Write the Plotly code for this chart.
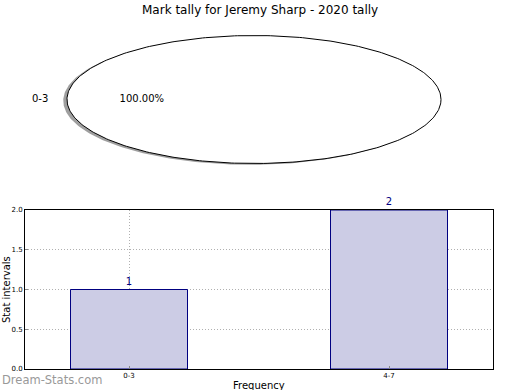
import numpy as np
import plotly.graph_objects as go

# ---- data ----
title_text = "Mark tally for Jeremy Sharp - 2020 tally"
pie_labels = ["0-3"]
pie_values = [1]
bar_categories = ["0-3", "4-7"]
bar_values = [1, 2]
y_ticks = [0.0, 0.5, 1.0, 1.5, 2.0]
x_title = "Frequency"
y_title = "Stat intervals"
watermark = "Dream-Stats.com"

W, H = 520, 390
FONT = "DejaVu Sans"
GRID = "#b0b0b0"

fig = go.Figure()

# ---- pie drawn as wedges on a hidden, stretched axis (ellipse) ----
total = float(sum(pie_values))
start = 0.0
label_x, label_y, pct_x, pct_y, pct_txt = [], [], [], [], []
for lab, v in zip(pie_labels, pie_values):
    frac = v / total
    t1, t2 = start, start + 360.0 * frac
    th = np.radians(np.linspace(t1, t2, 361))
    xs = np.cos(th)
    ys = np.sin(th)
    if frac < 1.0:
        xs = np.concatenate([[0.0], xs, [0.0]])
        ys = np.concatenate([[0.0], ys, [0.0]])
    # shadow
    fig.add_trace(go.Scatter(x=xs - 0.02, y=ys - 0.02, mode="lines", fill="toself",
                             fillcolor="rgba(80,80,80,0.55)", line=dict(width=0),
                             xaxis="x2", yaxis="y2", hoverinfo="skip", showlegend=False))
    fig.add_trace(go.Scatter(x=xs, y=ys, mode="lines", fill="toself",
                             fillcolor="white", line=dict(color="black", width=1),
                             xaxis="x2", yaxis="y2", hoverinfo="skip", showlegend=False))
    mid = np.radians((t1 + t2) / 2.0)
    label_x.append(1.1 * np.cos(mid)); label_y.append(1.1 * np.sin(mid))
    pct_x.append(0.6 * np.cos(mid)); pct_y.append(0.6 * np.sin(mid))
    pct_txt.append(f"{100 * frac:.2f}%")
    start = t2

fig.add_trace(go.Scatter(x=label_x, y=label_y, mode="text", text=pie_labels,
                         textposition="middle left", textfont=dict(family=FONT, size=10, color="black"),
                         xaxis="x2", yaxis="y2", hoverinfo="skip", showlegend=False, cliponaxis=False))
fig.add_trace(go.Scatter(x=pct_x, y=pct_y, mode="text", text=pct_txt,
                         textposition="middle center", textfont=dict(family=FONT, size=10, color="black"),
                         xaxis="x2", yaxis="y2", hoverinfo="skip", showlegend=False, cliponaxis=False))

# ---- bar chart ----
fig.add_trace(go.Bar(x=bar_categories, y=bar_values, width=0.45,
                     marker=dict(color="#ccccE5", line=dict(color="#000080", width=1)),
                     text=[str(v) for v in bar_values], textposition="outside",
                     textfont=dict(family=FONT, size=10, color="#000080"),
                     cliponaxis=False, showlegend=False, xaxis="x", yaxis="y"))

# pie axis geometry: center (254, 99.5), radii 187 x 64 px, y-domain from px 20 to 180
cx, cy, rx, ry = 254, 99.5, 187, 64
ytop_px, ybot_px = 20, 180

fig.update_layout(
    width=W, height=H,
    margin=dict(l=0, r=0, t=0, b=0, pad=0),
    paper_bgcolor="white", plot_bgcolor="white",
    font=dict(family=FONT, color="black"),
    showlegend=False,
    xaxis2=dict(domain=[0, 1], range=[-cx / rx, (W - cx) / rx], visible=False,
                anchor="y2", fixedrange=True, automargin=False),
    yaxis2=dict(domain=[(H - ybot_px) / H, (H - ytop_px) / H],
                range=[-(ybot_px - cy) / ry, (cy - ytop_px) / ry], visible=False,
                anchor="x2", fixedrange=True, automargin=False),
    xaxis=dict(domain=[25 / W, 493 / W], range=[-0.4, 1.4], anchor="y",
               showline=True, mirror=True, linecolor="black", linewidth=1,
               showgrid=True, gridcolor=GRID, griddash="1px,2px", gridwidth=1,
               ticks="inside", ticklen=3, tickcolor="#888888", automargin=False,
               tickfont=dict(family=FONT, size=7, color="black"), zeroline=False),
    yaxis=dict(domain=[(H - 369) / H, (H - 210) / H], range=[0, 2], anchor="x",
               tickvals=y_ticks, ticktext=[f"{t:.1f}" for t in y_ticks],
               showline=True, mirror=True, linecolor="black", linewidth=1,
               showgrid=True, gridcolor=GRID, griddash="1px,2px", gridwidth=1,
               ticks="inside", ticklen=3, tickcolor="#888888", automargin=False,
               tickfont=dict(family=FONT, size=7, color="black"), zeroline=False),
    annotations=[
        dict(text=title_text, x=260 / W, y=(H - 10) / H, xref="paper", yref="paper",
             xanchor="center", yanchor="middle", showarrow=False,
             font=dict(family=FONT, size=12, color="black")),
        dict(text=y_title, x=6 / W, y=(H - 290) / H, xref="paper", yref="paper",
             xanchor="center", yanchor="middle", textangle=-90, showarrow=False,
             font=dict(family=FONT, size=10, color="black")),
        dict(text=x_title, x=259 / W, y=(H - 378) / H, xref="paper", yref="paper",
             xanchor="center", yanchor="top", showarrow=False,
             font=dict(family=FONT, size=10, color="black")),
        dict(text=watermark, x=0, y=(H - 380) / H, xref="paper", yref="paper",
             xanchor="left", yanchor="middle", showarrow=False,
             font=dict(family=FONT, size=11.5, color="#999999")),
    ],
)

fig.write_html("out.html", config={"displayModeBar": False},
               post_script="document.body.style.margin='0';document.body.style.overflow='hidden';")
